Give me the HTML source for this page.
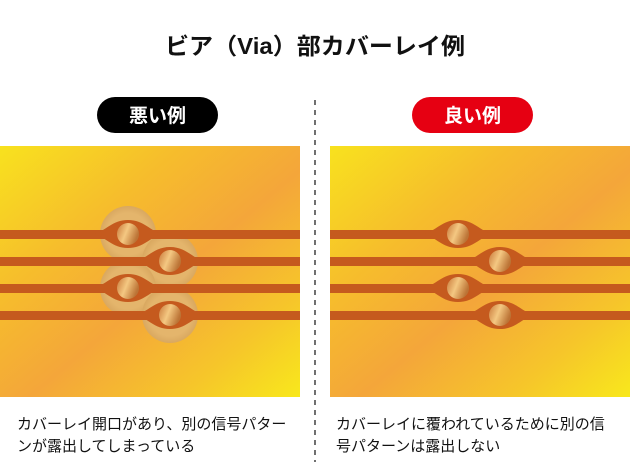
<!DOCTYPE html>
<html><head><meta charset="utf-8"><style>
body{margin:0;background:#fff;width:630px;height:472px;overflow:hidden}
svg{display:block}
text{font-family:"Liberation Sans","Noto Sans CJK JP",sans-serif}
</style></head><body>
<svg width="630" height="472" viewBox="0 0 630 472" xmlns="http://www.w3.org/2000/svg">
<defs>
<linearGradient id="bg" x1="0" y1="0" x2="1" y2="1">
<stop offset="0" stop-color="#f8e21e"/><stop offset="0.3" stop-color="#f6bd2c"/><stop offset="0.55" stop-color="#f4a63a"/><stop offset="0.8" stop-color="#f6c62a"/><stop offset="1" stop-color="#f8e81c"/>
</linearGradient>
<linearGradient id="cu" x1="0" y1="0" x2="1" y2="0.4">
<stop offset="0" stop-color="#c8783a"/><stop offset="0.5" stop-color="#f4c882"/><stop offset="1" stop-color="#bc7436"/>
</linearGradient>
<radialGradient id="op"><stop offset="0.75" stop-color="#e4b56c"/><stop offset="1" stop-color="#d9a860"/></radialGradient>
<g id="eye"><path d="M-34 0 C-22 -3 -16 -14 0 -14 C16 -14 22 -3 34 0 C22 3 16 14 0 14 C-16 14 -22 3 -34 0Z" fill="#c55a1e"/><circle r="11" fill="url(#cu)"/></g>
</defs>
<text x="315" y="54" text-anchor="middle" font-size="23" font-weight="bold" fill="#111" textLength="300" lengthAdjust="spacingAndGlyphs">ビア（Via）部カバーレイ例</text>
<rect x="97" y="97" width="121" height="36" rx="18" fill="#000"/>
<text x="157.5" y="122" text-anchor="middle" font-size="19" font-weight="bold" fill="#fff">悪い例</text>
<rect x="412" y="97" width="121" height="36" rx="18" fill="#e60012"/>
<text x="472.5" y="122" text-anchor="middle" font-size="19" font-weight="bold" fill="#fff">良い例</text>
<line x1="315" y1="100" x2="315" y2="462" stroke="#222" stroke-width="1.3" stroke-dasharray="5,5"/>
<rect x="0" y="146" width="300" height="251" fill="url(#bg)"/>
<rect x="330" y="146" width="300" height="251" fill="url(#bg)"/>
<g>
<circle cx="128" cy="234" r="28" fill="url(#op)"/>
<circle cx="170" cy="261" r="28" fill="url(#op)"/>
<circle cx="128" cy="288" r="28" fill="url(#op)"/>
<circle cx="170" cy="315" r="28" fill="url(#op)"/>
</g>
<g fill="#c55a1e">
<rect x="0" y="230" width="300" height="9"/><rect x="0" y="257" width="300" height="9"/><rect x="0" y="284" width="300" height="9"/><rect x="0" y="311" width="300" height="9"/>
<rect x="330" y="230" width="300" height="9"/><rect x="330" y="257" width="300" height="9"/><rect x="330" y="284" width="300" height="9"/><rect x="330" y="311" width="300" height="9"/>
</g>
<use href="#eye" x="128" y="234"/><use href="#eye" x="170" y="261"/><use href="#eye" x="128" y="288"/><use href="#eye" x="170" y="315"/>
<use href="#eye" x="458" y="234"/><use href="#eye" x="500" y="261"/><use href="#eye" x="458" y="288"/><use href="#eye" x="500" y="315"/>
<g font-size="15" fill="#111">
<text x="17" y="429">カバーレイ開口があり、別の信号パター</text>
<text x="17" y="451">ンが露出してしまっている</text>
<text x="336" y="429">カバーレイに覆われているために別の信</text>
<text x="336" y="451">号パターンは露出しない</text>
</g>
</svg>
</body></html>
